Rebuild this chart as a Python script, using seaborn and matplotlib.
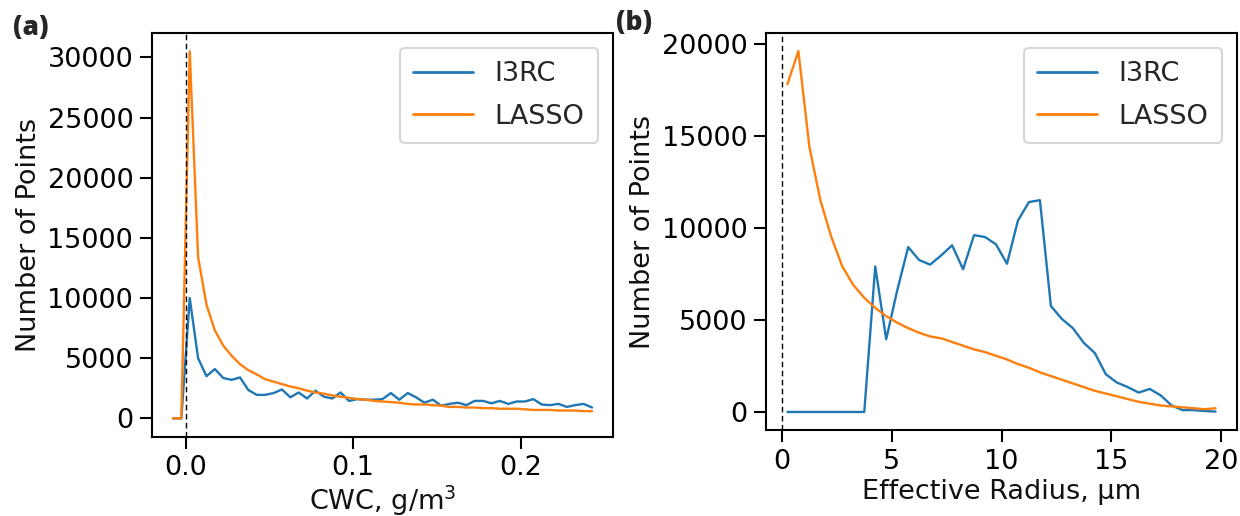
import numpy as np
import pandas as pd
import matplotlib
matplotlib.use("Agg")
import matplotlib.pyplot as plt
import seaborn as sns

# ---------------- data ----------------
series_names = ["I3RC", "LASSO"]

cwc_x = [-0.0075, -0.0025, 0.0025, 0.0075, 0.0125, 0.0175, 0.0225, 0.0275, 0.0325, 0.0375,
         0.0425, 0.0475, 0.0525, 0.0575, 0.0625, 0.0675, 0.0725, 0.0775, 0.0825, 0.0875,
         0.0925, 0.0975, 0.1025, 0.1075, 0.1125, 0.1175, 0.1225, 0.1275, 0.1325, 0.1375,
         0.1425, 0.1475, 0.1525, 0.1575, 0.1625, 0.1675, 0.1725, 0.1775, 0.1825, 0.1875,
         0.1925, 0.1975, 0.2025, 0.2075, 0.2125, 0.2175, 0.2225, 0.2275, 0.2325, 0.2375,
         0.2425]
cwc_i3rc = [0, 0, 10000, 5000, 3500, 4100, 3350, 3200, 3400, 2350,
            1950, 1950, 2100, 2400, 1750, 2150, 1650, 2300, 1800, 1650,
            2150, 1450, 1600, 1550, 1550, 1600, 2100, 1550, 2100, 1750,
            1300, 1550, 1050, 1200, 1300, 1100, 1450, 1450, 1250, 1450,
            1200, 1400, 1400, 1600, 1150, 1100, 1200, 950, 1100, 1200,
            900]
cwc_lasso = [0, 0, 30500, 13400, 9450, 7300, 6050, 5200, 4500, 4000,
             3650, 3250, 3050, 2850, 2650, 2500, 2300, 2150, 2050, 1900,
             1800, 1700, 1600, 1550, 1450, 1400, 1350, 1300, 1200, 1150,
             1150, 1100, 1050, 950, 950, 900, 900, 850, 850, 800,
             800, 800, 750, 700, 700, 700, 650, 650, 650, 600,
             600]

reff_x = [0.25, 0.75, 1.25, 1.75, 2.25, 2.75, 3.25, 3.75, 4.25, 4.75,
          5.25, 5.75, 6.25, 6.75, 7.25, 7.75, 8.25, 8.75, 9.25, 9.75,
          10.25, 10.75, 11.25, 11.75, 12.25, 12.75, 13.25, 13.75, 14.25, 14.75,
          15.25, 15.75, 16.25, 16.75, 17.25, 17.75, 18.25, 18.75, 19.25, 19.75]
reff_i3rc = [0, 0, 0, 0, 0, 0, 0, 0, 7900, 3950,
             6600, 8950, 8250, 8000, 8500, 9050, 7750, 9600, 9500, 9100,
             8050, 10400, 11400, 11500, 5750, 5050, 4550, 3750, 3200, 2050,
             1600, 1350, 1050, 1250, 900, 350, 100, 100, 50, 20]
reff_lasso = [17800, 19600, 14400, 11500, 9500, 7900, 6900, 6200, 5650, 5200,
              4850, 4550, 4300, 4100, 4000, 3800, 3600, 3400, 3250, 3050,
              2850, 2600, 2400, 2150, 1950, 1750, 1550, 1350, 1150, 1000,
              850, 700, 550, 450, 350, 300, 250, 200, 150, 200]

cwc_xticks = [0.0, 0.1, 0.2]
cwc_xticklabels = ["0.0", "0.1", "0.2"]
cwc_yticks = [0, 5000, 10000, 15000, 20000, 25000, 30000]
reff_xticks = [0, 5, 10, 15, 20]
reff_yticks = [0, 5000, 10000, 15000, 20000]

panel_labels = ["(a)", "(b)"]
xlabels = ["CWC, g/m$^3$", "Effective Radius, µm"]
ylabel = "Number of Points"

# ---------------- style ----------------
sns.set_theme(context="talk", style="ticks")
plt.rcParams['font.family'] = ['DejaVu Sans']
plt.rcParams['mathtext.fontset'] = 'dejavusans'

colors = {"I3RC": "#1f77b4", "LASSO": "#ff7f0e"}

W, H = 1240, 516
fig = plt.figure(figsize=(W / 100, H / 100), dpi=100)
ax1 = fig.add_axes([152 / W, 1 - 436.7 / H, (613 - 152) / W, (436.7 - 33) / H])
ax2 = fig.add_axes([766 / W, 1 - 430 / H, (1237 - 766) / W, (430 - 33) / H])

panels = [
    (ax1, cwc_x, [cwc_i3rc, cwc_lasso], cwc_xticks, cwc_xticklabels, cwc_yticks, 1.5),
    (ax2, reff_x, [reff_i3rc, reff_lasso], reff_xticks, [str(t) for t in reff_xticks], reff_yticks, 3),
]

for i, (ax, xs, ys_list, xt, xtl, yt, lp) in enumerate(panels):
    for name, ys in zip(series_names, ys_list):
        df = pd.DataFrame({"x": xs, "y": ys})
        sns.lineplot(data=df, x="x", y="y", ax=ax, color=colors[name], label=name,
                     linewidth=1.7, estimator=None, sort=False)
    ax.axvline(0, color="black", linestyle="--", linewidth=1.0, dashes=(4, 2.5))
    ax.set_xticks(xt)
    ax.set_xticklabels(xtl)
    ax.set_yticks(yt)
    ax.tick_params(axis="both", which="major", length=8.5, width=1.5, labelsize=19.5,
                   pad=5, color="black", labelcolor="black")
    for sp in ax.spines.values():
        sp.set_linewidth(1.5)
        sp.set_color("black")
        sp.set_visible(True)
    ax.set_xlabel(xlabels[i], fontsize=19.5, color="#111111", labelpad=lp)
    ax.set_ylabel(ylabel, fontsize=19.5, color="#111111")
    leg = ax.legend(loc="upper right", fontsize=19.5, handlelength=2.2, frameon=True,
                    borderaxespad=0.55, labelspacing=0.6, borderpad=0.5)
    for line in leg.get_lines():
        line.set_linewidth(2.0)

fig.text(13 / W, 1 - 15 / H, panel_labels[0], fontsize=19, fontweight="heavy",
         family=["Open Sans", "DejaVu Sans"], ha="left", va="top")
fig.text(616 / W, 1 - 10 / H, panel_labels[1], fontsize=19, fontweight="heavy",
         family=["Open Sans", "DejaVu Sans"], ha="left", va="top")

fig.savefig("out.png", dpi=100)
